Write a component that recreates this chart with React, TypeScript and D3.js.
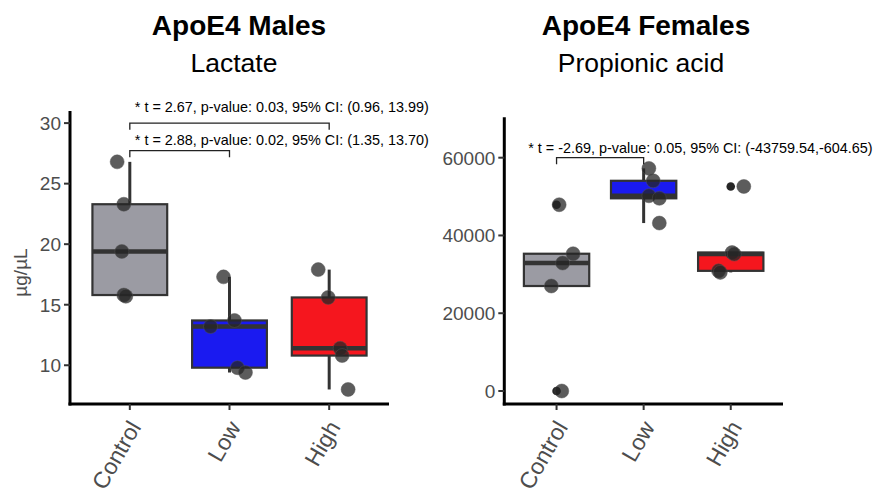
import React, { useRef, useEffect } from "react";
import * as d3 from "d3";

const groups = ["Control", "Low", "High"];

// ApoE4 males, lactate (µg/µL)
const maleControl = [26.8, 23.3, 19.4, 15.8, 15.7];
const maleLow = [17.3, 13.7, 13.2, 9.8, 9.4];
const maleHigh = [17.9, 15.6, 11.4, 10.8, 8.0];
// horizontal jitter, as a fraction of the category step
const maleControlJitter = [-0.127, -0.06, -0.08, -0.06, -0.04];
const maleLowJitter = [-0.06, 0.05, -0.19, 0.08, 0.16];
const maleHighJitter = [-0.11, -0.01, 0.11, 0.13, 0.19];
const maleTicks = [10, 15, 20, 25, 30];

// ApoE4 females, propionic acid
const femaleControl = [47900, 35300, 32900, 27000, 0];
const femaleLow = [57250, 54060, 50200, 49550, 43190];
const femaleHigh = [52600, 35600, 35200, 30900, 30500];
const femaleControlJitter = [0.03, 0.19, 0.07, -0.06, 0.06];
const femaleLowJitter = [0.06, 0.11, 0.06, 0.18, 0.18];
const femaleHighJitter = [0.15, 0.015, 0.04, -0.14, -0.12];
const femaleTicks = [0, 20000, 40000, 60000];

const maleTests = [
  { from: "Control", to: "High", y: 30.0, tip: 0.55, labelY: 30.95,
    label: "* t = 2.67, p-value: 0.03, 95% CI: (0.96, 13.99)" },
  { from: "Control", to: "Low", y: 27.73, tip: 0.55, labelY: 28.2,
    label: "* t = 2.88, p-value: 0.02, 95% CI: (1.35, 13.70)" },
];
const femaleTests = [
  { from: "Control", to: "Low", y: 60000, tip: 1700, labelY: 61200,
    label: "* t = -2.69, p-value: 0.05, 95% CI: (-43759.54,-604.65)" },
];

const fills = { Control: "#9b9ba3", Low: "#1a1af0", High: "#f5161e" };
const FONT = "'Liberation Sans', Arial, Helvetica, sans-serif";

function drawPanel(g, cfg) {
  const bottom = 404;
  const x = d3.scalePoint().domain(groups).range([cfg.left, cfg.right]).padding(0.6);
  const y = d3.scaleLinear().domain(cfg.domain).range([bottom, cfg.top]);
  const step = x.step();
  const bw = step * 0.75;

  // titles
  g.append("text").attr("x", cfg.titleX).attr("y", 35)
    .attr("text-anchor", "middle").attr("font-family", FONT)
    .attr("font-size", 28).attr("font-weight", "bold").attr("fill", "#000")
    .text(cfg.title);
  g.append("text").attr("x", cfg.subX).attr("y", 72)
    .attr("text-anchor", "middle").attr("font-family", FONT)
    .attr("font-size", 26.5).attr("fill", "#000")
    .text(cfg.subtitle);

  // boxplots
  cfg.series.forEach((vals, i) => {
    const grp = groups[i];
    const cx = x(grp);
    const s = vals.slice().sort(d3.ascending);
    const q1 = d3.quantile(s, 0.25);
    const med = d3.quantile(s, 0.5);
    const q3 = d3.quantile(s, 0.75);
    const iqr = q3 - q1;
    const inside = s.filter(v => v >= q1 - 1.5 * iqr && v <= q3 + 1.5 * iqr);
    const lo = d3.min(inside);
    const hi = d3.max(inside);
    const outliers = s.filter(v => v < q1 - 1.5 * iqr || v > q3 + 1.5 * iqr);

    const bg = g.append("g");
    bg.append("line").attr("x1", cx).attr("x2", cx).attr("y1", y(q3)).attr("y2", y(hi))
      .attr("stroke", "#333").attr("stroke-width", 3);
    bg.append("line").attr("x1", cx).attr("x2", cx).attr("y1", y(q1)).attr("y2", y(lo))
      .attr("stroke", "#333").attr("stroke-width", 3);
    bg.append("rect").attr("x", cx - bw / 2).attr("width", bw)
      .attr("y", y(q3)).attr("height", y(q1) - y(q3))
      .attr("fill", fills[grp]).attr("stroke", "#333").attr("stroke-width", 2.2);
    bg.append("line").attr("x1", cx - bw / 2).attr("x2", cx + bw / 2)
      .attr("y1", y(med)).attr("y2", y(med))
      .attr("stroke", "#333").attr("stroke-width", 4.5);
    bg.selectAll("circle.out").data(outliers).join("circle")
      .attr("class", "out").attr("cx", cx).attr("cy", d => y(d)).attr("r", 4.3)
      .attr("fill", "#000").attr("fill-opacity", 0.85);
  });

  // jittered points
  cfg.series.forEach((vals, i) => {
    const grp = groups[i];
    const jit = cfg.jitter[i];
    g.append("g").selectAll("circle").data(vals).join("circle")
      .attr("cx", (d, j) => x(grp) + jit[j] * step)
      .attr("cy", d => y(d))
      .attr("r", 7)
      .attr("fill", "#262626").attr("fill-opacity", 0.75)
      .attr("stroke", "#555").attr("stroke-opacity", 0.6).attr("stroke-width", 0.8);
  });

  // axes
  g.append("line").attr("x1", cfg.left).attr("x2", cfg.left)
    .attr("y1", cfg.top).attr("y2", bottom + 1.5).attr("stroke", "#000").attr("stroke-width", 3);
  g.append("line").attr("x1", cfg.left - 1.5).attr("x2", cfg.right)
    .attr("y1", bottom).attr("y2", bottom).attr("stroke", "#000").attr("stroke-width", 3);

  cfg.ticks.forEach(t => {
    g.append("line").attr("x1", cfg.left - 6).attr("x2", cfg.left)
      .attr("y1", y(t)).attr("y2", y(t)).attr("stroke", "#333").attr("stroke-width", 2);
    g.append("text").attr("x", cfg.left - 9).attr("y", y(t)).attr("dy", "0.36em")
      .attr("text-anchor", "end").attr("font-family", FONT).attr("font-size", 19)
      .attr("fill", "#4d4d4d").text(t);
  });

  groups.forEach(grp => {
    g.append("line").attr("x1", x(grp)).attr("x2", x(grp))
      .attr("y1", bottom).attr("y2", bottom + 6).attr("stroke", "#333").attr("stroke-width", 2);
    g.append("text")
      .attr("transform", `translate(${x(grp) + 12},${bottom + 23}) rotate(-60)`)
      .attr("text-anchor", "end").attr("font-family", FONT).attr("font-size", 23)
      .attr("fill", "#4d4d4d").text(grp);
  });

  if (cfg.yLabel) {
    g.append("text")
      .attr("transform", `translate(${cfg.left - 43},${(cfg.top + bottom) / 2 + 15}) rotate(-90)`)
      .attr("text-anchor", "middle").attr("font-family", FONT).attr("font-size", 19)
      .attr("fill", "#4d4d4d").text(cfg.yLabel);
  }

  // significance brackets
  cfg.tests.forEach(t => {
    const x1 = x(t.from);
    const x2 = x(t.to);
    const yb = y(t.y);
    const yt = y(t.y - t.tip);
    g.append("path")
      .attr("d", `M${x1},${yt}V${yb}H${x2}V${yt}`)
      .attr("fill", "none").attr("stroke", "#222").attr("stroke-width", 1.3);
    g.append("text").attr("x", x1 + cfg.labelDx).attr("y", y(t.labelY))
      .attr("font-family", FONT).attr("font-size", 14.4).attr("fill", "#000")
      .text(t.label);
  });
}

export default function App() {
  const svgRef = useRef(null);

  useEffect(() => {
    const svg = d3.select(svgRef.current);
    svg.selectAll("*").remove();
    svg.append("rect").attr("width", 875).attr("height", 492).attr("fill", "#fff");

    drawPanel(svg.append("g"), {
      left: 70, right: 389, top: 111,
      domain: [6.8, 31.0],
      series: [maleControl, maleLow, maleHigh],
      jitter: [maleControlJitter, maleLowJitter, maleHighJitter],
      ticks: maleTicks,
      tests: maleTests,
      labelDx: 5,
      title: "ApoE4 Males", subtitle: "Lactate",
      titleX: 239, subX: 234,
      yLabel: "µg/µL",
    });

    drawPanel(svg.append("g"), {
      left: 504.3, right: 783, top: 117.3,
      domain: [-3342, 70386],
      series: [femaleControl, femaleLow, femaleHigh],
      jitter: [femaleControlJitter, femaleLowJitter, femaleHighJitter],
      ticks: femaleTicks,
      tests: femaleTests,
      labelDx: -28.4,
      title: "ApoE4 Females", subtitle: "Propionic acid",
      titleX: 646, subX: 641,
      yLabel: null,
    });
  }, []);

  return (
    <svg ref={svgRef} width={875} height={492}
      style={{ position: "absolute", left: 0, top: 0, display: "block" }} />
  );
}
